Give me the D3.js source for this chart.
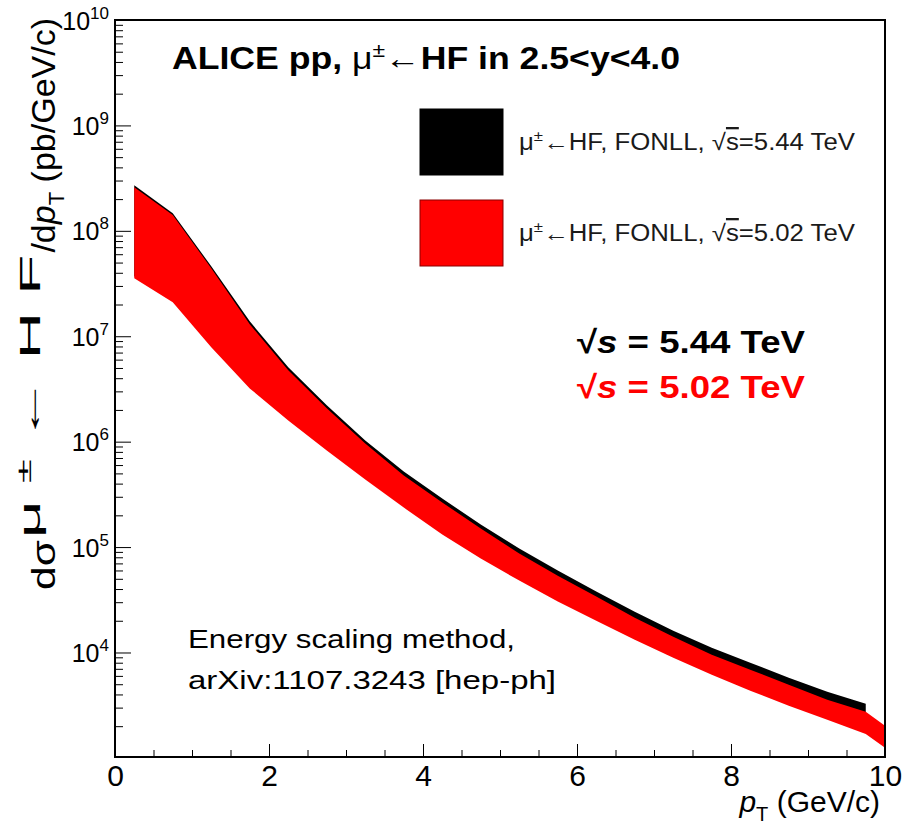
<!DOCTYPE html>
<html>
<head>
<meta charset="utf-8">
<script src="https://cdn.jsdelivr.net/npm/d3@7"></script>
<style>
body { margin: 0; background: #fff; }
svg { display: block; font-family: "Liberation Sans", Arial, sans-serif; }
</style>
</head>
<body>
<div id="chart"></div>
<script>
// FONLL bands (pb/GeV/c)
const pt544 = [0.25, 0.75, 1.25, 1.75, 2.25, 2.75, 3.25, 3.75, 4.25, 4.75, 5.25, 5.75, 6.25, 6.75, 7.25, 7.75, 8.25, 8.75, 9.25, 9.75];
const hi544 = [2.71e8, 1.47e8, 4.61e7, 1.385e7, 5.07e6, 2.21e6, 1.027e6, 5.21e5, 2.89e5, 1.636e5, 9.7e4, 5.98e4, 3.78e4, 2.44e4, 1.61e4, 1.11e4, 8.0e3, 5.76e3, 4.24e3, 3.27e3];
const lo544 = [3.7e7, 2.2e7, 8.3e6, 3.4e6, 1.7e6, 8.9e5, 4.7e5, 2.6e5, 1.44e5, 8.6e4, 5.4e4, 3.4e4, 2.25e4, 1.5e4, 1.02e4, 7.1e3, 5.0e3, 3.6e3, 2.7e3, 2.0e3];

const pt502 = [0.25, 0.75, 1.25, 1.75, 2.25, 2.75, 3.25, 3.75, 4.25, 4.75, 5.25, 5.75, 6.25, 6.75, 7.25, 7.75, 8.25, 8.75, 9.25, 9.75, 10];
const hi502 = [2.59e8, 1.41e8, 4.42e7, 1.30e7, 4.75e6, 2.07e6, 9.61e5, 4.78e5, 2.65e5, 1.50e5, 8.7e4, 5.36e4, 3.39e4, 2.14e4, 1.41e4, 9.53e3, 6.86e3, 4.95e3, 3.56e3, 2.74e3, 2.02e3];
const lo502 = [3.55e7, 2.10e7, 7.85e6, 3.20e6, 1.59e6, 8.25e5, 4.38e5, 2.37e5, 1.314e5, 7.78e4, 4.81e4, 3.04e4, 2.00e4, 1.32e4, 8.93e3, 6.15e3, 4.34e3, 3.12e3, 2.30e3, 1.69e3, 1.25e3];

const xMajor = [0, 2, 4, 6, 8, 10];
const yExponents = [4, 5, 6, 7, 8, 9, 10];
const legendLabels = ["5.44", "5.02"];

const width = 904, height = 830;
const margin = { top: 20, right: 19, bottom: 73, left: 115 };

const svg = d3.select("#chart").append("svg")
    .attr("width", width)
    .attr("height", height);

const x = d3.scaleLinear()
    .domain([0, 10])
    .range([margin.left, width - margin.right]);

const y = d3.scaleLog()
    .domain([1020, 1e10])
    .range([height - margin.bottom, margin.top]);

let band = (xs, hi, lo) => d3.area()
    .x((d, i) => x(xs[i]))
    .y0((d, i) => y(lo[i]))
    .y1((d, i) => y(hi[i]))(xs);

// black first, red on top
svg.append("path")
    .attr("fill", "#000")
    .attr("d", band(pt544, hi544, lo544));

svg.append("path")
    .attr("fill", "#ff0000")
    .attr("d", band(pt502, hi502, lo502));

// x axis
const yBottom = height - margin.bottom;
const xMinor = d3.range(0, 10.01, 0.5);

svg.append("g")
    .attr("transform", `translate(0,${yBottom})`)
    .call(d3.axisBottom(x).tickValues(xMinor).tickSize(-7).tickFormat(""))
    .call(g => g.select(".domain").remove());

const gx = svg.append("g")
    .attr("transform", `translate(0,${yBottom})`)
    .call(d3.axisBottom(x).tickValues(xMajor).tickSize(-13).tickPadding(8).tickFormat(d3.format("d")));
gx.select(".domain").remove();
gx.selectAll("text")
    .attr("font-size", 30)
    .attr("font-family", "Liberation Sans, Arial, sans-serif")
    .attr("fill", "#000");

// y axis
let yMinor = [];
for (let e = 3; e < 10; e++) {
    for (let m = 2; m <= 9; m++) {
        const v = m * Math.pow(10, e);
        if (v >= y.domain()[0] && v <= 1e10) yMinor.push(v);
    }
}
svg.append("g")
    .attr("transform", `translate(${margin.left},0)`)
    .call(d3.axisLeft(y).tickValues(yMinor).tickSize(-8).tickFormat(""))
    .call(g => g.select(".domain").remove());

const gy = svg.append("g")
    .attr("transform", `translate(${margin.left},0)`)
    .call(d3.axisLeft(y).tickValues(yExponents.map(e => Math.pow(10, e))).tickSize(-16).tickPadding(6).tickFormat(""));
gy.select(".domain").remove();
gy.selectAll(".tick").each(function (d, i) {
    const t = d3.select(this).append("text")
        .attr("x", -6)
        .attr("y", 9)
        .attr("text-anchor", "end")
        .attr("fill", "#000")
        .attr("font-size", 25);
    t.append("tspan").text("10");
    t.append("tspan").attr("font-size", 17).attr("dy", -11).text(yExponents[i]);
});

// frame
svg.append("rect")
    .attr("x", margin.left)
    .attr("y", margin.top)
    .attr("width", width - margin.left - margin.right)
    .attr("height", height - margin.top - margin.bottom)
    .attr("fill", "none")
    .attr("stroke", "#000")
    .attr("stroke-width", 2);

// y title: upper part hangs from the top, dsigma sits at the bottom,
// the (wide) superscript fills the gap between them
const yBase = 55;
const yTop = svg.append("text")
    .attr("transform", `translate(${yBase},18) rotate(-90)`)
    .attr("text-anchor", "end")
    .attr("font-size", 34)
    .attr("fill", "#000");
yTop.append("tspan").text("/d");
yTop.append("tspan").attr("font-style", "italic").text("p");
yTop.append("tspan").attr("font-size", 22).attr("dy", 9).text("T");
yTop.append("tspan").attr("dy", -9).text(" (pb/GeV/c)");
const topLen = yTop.node().getComputedTextLength();

const yLow = svg.append("text")
    .attr("transform", `translate(${yBase},590) rotate(-90) scale(1.25,1)`)
    .attr("font-size", 34)
    .attr("fill", "#000")
    .text("dσ");
const lowLen = yLow.node().getComputedTextLength() * 1.25;

const supStretch = 2.2;
const supStart = 590 - lowLen - 2;
const supEnd = 18 + topLen + 2;
const ySup = svg.append("text")
    .attr("transform", `translate(${yBase - 15},${supStart}) rotate(-90) scale(${supStretch},1)`)
    .attr("font-size", 30)
    .attr("fill", "#000")
    .attr("textLength", (supStart - supEnd) / supStretch)
    .attr("lengthAdjust", "spacing");
ySup.append("tspan").text("μ");
ySup.append("tspan").attr("font-size", 20).attr("dy", -9).text("±");
ySup.append("tspan").attr("dy", 9).text("←HF");

const xTitle = svg.append("text")
    .attr("x", 880)
    .attr("y", 812)
    .attr("text-anchor", "end")
    .attr("font-size", 30)
    .attr("fill", "#000");
xTitle.append("tspan").attr("font-style", "italic").text("p");
xTitle.append("tspan").attr("font-size", 20).attr("dy", 9).text("T");
xTitle.append("tspan").attr("dy", -9).text(" (GeV/c)");

// title
const title = svg.append("text")
    .attr("x", 172)
    .attr("y", 69)
    .attr("font-size", 31)
    .attr("font-weight", "bold")
    .attr("fill", "#000")
    .attr("textLength", 508)
    .attr("lengthAdjust", "spacingAndGlyphs");
title.append("tspan").text("ALICE pp, ");
title.append("tspan").attr("font-weight", "normal").text("μ");
title.append("tspan").attr("font-weight", "normal").attr("font-size", 20).attr("dy", -12).text("±");
title.append("tspan").attr("font-weight", "normal").attr("dy", 12).text("←");
title.append("tspan").text("HF in 2.5<y<4.0");

// legend
const legendColors = ["#000", "#ff0000"];
const legendY = [109, 200];
legendLabels.forEach((lab, i) => {
    svg.append("rect")
        .attr("x", 420)
        .attr("y", legendY[i])
        .attr("width", 83)
        .attr("height", 66)
        .attr("fill", legendColors[i])
        .attr("stroke", i ? "#8a0000" : "#000")
        .attr("stroke-width", 1);
    const t = svg.append("text")
        .attr("x", 519)
        .attr("y", legendY[i] + 41)
        .attr("font-size", 23)
        .attr("fill", "#1a1a1a")
        .attr("textLength", 336)
        .attr("lengthAdjust", "spacingAndGlyphs");
    t.append("tspan").text("μ");
    t.append("tspan").attr("font-size", 15).attr("dy", -9).text("±");
    t.append("tspan").attr("dy", 9).text("←HF, FONLL, √");
    t.append("tspan").attr("text-decoration", "overline").text("s");
    t.append("tspan").text(`=${lab} TeV`);
});

// energy annotations
const annY = [353, 398];
legendLabels.forEach((lab, i) => {
    const t = svg.append("text")
        .attr("x", 577)
        .attr("y", annY[i])
        .attr("font-size", 32)
        .attr("font-weight", "bold")
        .attr("fill", legendColors[i])
        .attr("textLength", 228)
        .attr("lengthAdjust", "spacingAndGlyphs");
    t.append("tspan").text("√");
    t.append("tspan").attr("font-style", "italic").text("s");
    t.append("tspan").text(` = ${lab} TeV`);
});

// method note
const notes = ["Energy scaling method,", "arXiv:1107.3243 [hep-ph]"];
const noteLen = [327, 368];
notes.forEach((n, i) => {
    svg.append("text")
        .attr("x", 188)
        .attr("y", 648 + i * 41)
        .attr("font-size", 26)
        .attr("fill", "#000")
        .attr("textLength", noteLen[i])
        .attr("lengthAdjust", "spacingAndGlyphs")
        .text(n);
});
</script>
</body>
</html>
